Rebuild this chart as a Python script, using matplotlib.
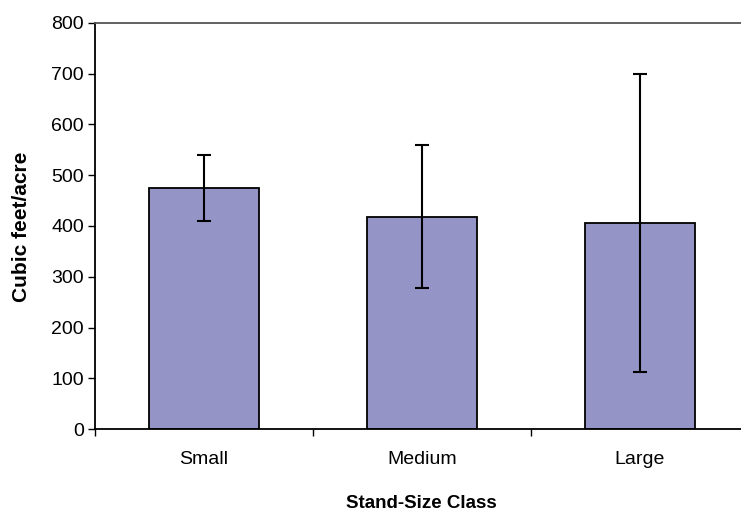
import matplotlib.pyplot as plt
import numpy as np

plt.rcParams['font.family'] = ['Liberation Sans', 'DejaVu Sans']

# data
classes = ['Small', 'Medium', 'Large']
volume = [474, 418, 405]
err_low = [410, 277, 112]
err_high = [540, 560, 700]

fig = plt.figure(figsize=(7.41, 5.12), dpi=100)
ax = fig.add_axes([95 / 741, 1 - 429 / 512, 654 / 741, 406 / 512])

x = np.arange(len(classes))
vol = np.array(volume)
yerr = np.vstack([vol - np.array(err_low), np.array(err_high) - vol])

ax.bar(x, vol, width=0.505, color='#9494C7', edgecolor='black', linewidth=1.3, zorder=2)
ax.errorbar(x, vol, yerr=yerr, fmt='none', ecolor='black', elinewidth=1.5,
            capsize=4.7, capthick=1.5, zorder=3)

ax.set_xlim(-0.5, 2.5)
ax.set_ylim(0, 800)
ax.set_yticks(np.arange(0, 801, 100))
ax.set_xticks(x)
ax.set_xticklabels(classes, fontsize=14)
ax.set_xticks([-0.5, 0.5, 1.5], minor=True)
ax.tick_params(axis='x', which='major', length=0, pad=16)
ax.tick_params(axis='x', which='minor', length=5, width=1, direction='out')
ax.tick_params(axis='y', labelsize=14, length=5, width=1, direction='out', pad=3)

ax.spines['right'].set_visible(False)
ax.spines['top'].set_color('#555555')
ax.spines['top'].set_linewidth(1.3)
ax.spines['left'].set_linewidth(1.3)
ax.spines['bottom'].set_linewidth(1.3)

fig.text(22 / 741, 1 - 227 / 512, 'Cubic feet/acre', fontsize=15, fontweight='bold',
         rotation=90, ha='center', va='center')
fig.text(421 / 741, 1 - 503 / 512, 'Stand-Size Class', fontsize=13.5, fontweight='bold',
         ha='center', va='center')

fig.savefig('out.png', dpi=100)
